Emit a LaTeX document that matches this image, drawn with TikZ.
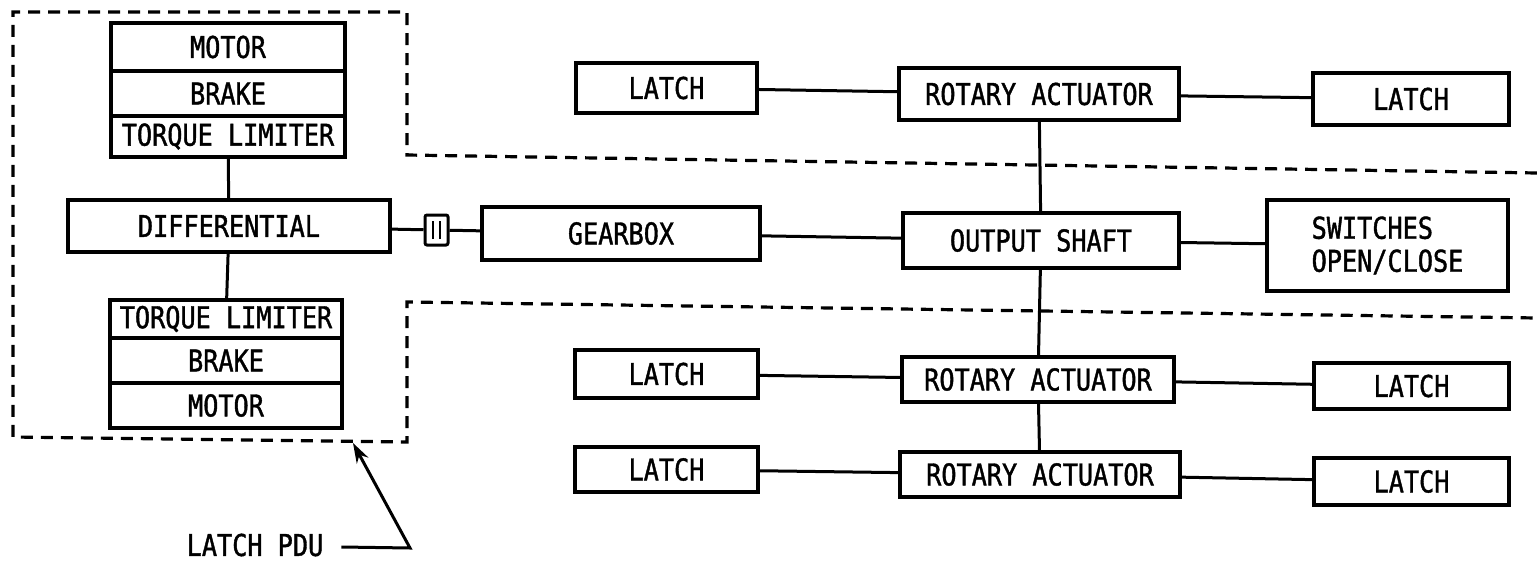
\documentclass[tikz,border=0pt]{standalone}
\usepackage{fontspec}
\newfontfamily\labfont[FakeStretch=0.84,FakeBold=1.3]{DejaVu Sans Mono}
\usetikzlibrary{arrows.meta}
\begin{document}
\begin{tikzpicture}[x=1pt,y=-1pt,
  box/.style 2 args={draw, line width=3.2pt, minimum width=#1 pt, minimum height=#2 pt,
    inner sep=0pt, font=\labfont\fontsize{30}{33}\selectfont},
  link/.style={line width=3pt},
  bound/.style={line width=3.2pt, dash pattern=on 12pt off 8pt},
  lbl/.style={inner sep=0pt, font=\labfont\fontsize{30}{33}\selectfont}]
\useasboundingbox (0,0) rectangle (1537,562);
% PDU boundary
\draw[bound] (1537,173) -- (407,155) -- (407,12) -- (13,12) -- (13,437) -- (407,442) -- (407,302) -- (1537,318);
% left stacks
\node[box={234}{48}] (m1) at (228,47) {MOTOR};
\node[box={234}{45}] (b1) at (228,93.5) {BRAKE};
\node[box={234}{41}] (t1) at (228,136.5) {TORQUE LIMITER};
\node[box={322}{52}] (diff) at (229,226) {DIFFERENTIAL};
\node[box={232}{38}] (t2) at (226,319) {TORQUE LIMITER};
\node[box={232}{45}] (b2) at (226,360.5) {BRAKE};
\node[box={232}{45}] (m2) at (226,405.5) {MOTOR};
% coupling
\node[draw, line width=3pt, rounded corners=2pt, minimum width=23pt, minimum height=30pt, inner sep=0pt] (cpl) at (436.5,230) {};
\draw[line width=2pt] ([xshift=-4pt,yshift=-9pt]cpl.center) -- ([xshift=-4pt,yshift=9pt]cpl.center);
\draw[line width=2pt] ([xshift=3pt,yshift=-9pt]cpl.center) -- ([xshift=3pt,yshift=9pt]cpl.center);
% drive line
\node[box={278}{53}] (gear) at (621,233.5) {GEARBOX};
\node[box={276}{55}] (shaft) at (1041,240.5) {OUTPUT SHAFT};
\node[box={241}{91}, align=left] (sw) at (1387.5,245.5) {SWITCHES\\OPEN/CLOSE};
% actuators and latches
\node[box={280}{52}] (ra1) at (1039,94) {ROTARY ACTUATOR};
\node[box={181}{50}] (la1) at (666.5,88) {LATCH};
\node[box={196}{52}] (lb1) at (1411,99) {LATCH};
\node[box={272}{45}] (ra2) at (1038,379.5) {ROTARY ACTUATOR};
\node[box={183}{48}] (la2) at (666.5,374) {LATCH};
\node[box={195}{46}] (lb2) at (1411.5,386) {LATCH};
\node[box={280}{45}] (ra3) at (1040,474.5) {ROTARY ACTUATOR};
\node[box={183}{45}] (la3) at (666.5,469.5) {LATCH};
\node[box={195}{47}] (lb3) at (1411.5,481.5) {LATCH};
% connectors
\draw[link] (t1) -- (diff);
\draw[link] (diff) -- (t2);
\draw[link] (diff) -- (cpl);
\draw[link] (cpl) -- (gear);
\draw[link] (gear) -- (shaft);
\draw[link] (shaft) -- (sw);
\draw[link] (ra1) -- (shaft);
\draw[link] (shaft) -- (ra2);
\draw[link] (ra2) -- (ra3);
\draw[link] (la1) -- (ra1);
\draw[link] (ra1) -- (lb1);
\draw[link] (la2) -- (ra2);
\draw[link] (ra2) -- (lb2);
\draw[link] (la3) -- (ra3);
\draw[link] (ra3) -- (lb3);
% label
\node[lbl] (pdu) at (255,545) {LATCH PDU};
\coordinate (bend) at (410,548);
\coordinate (tip) at (353,443);
\draw[link, -{Stealth[length=20pt,width=13pt]}] ([xshift=18pt,yshift=-2pt]pdu.east) -- (bend) -- (tip);
\end{tikzpicture}
\end{document}
